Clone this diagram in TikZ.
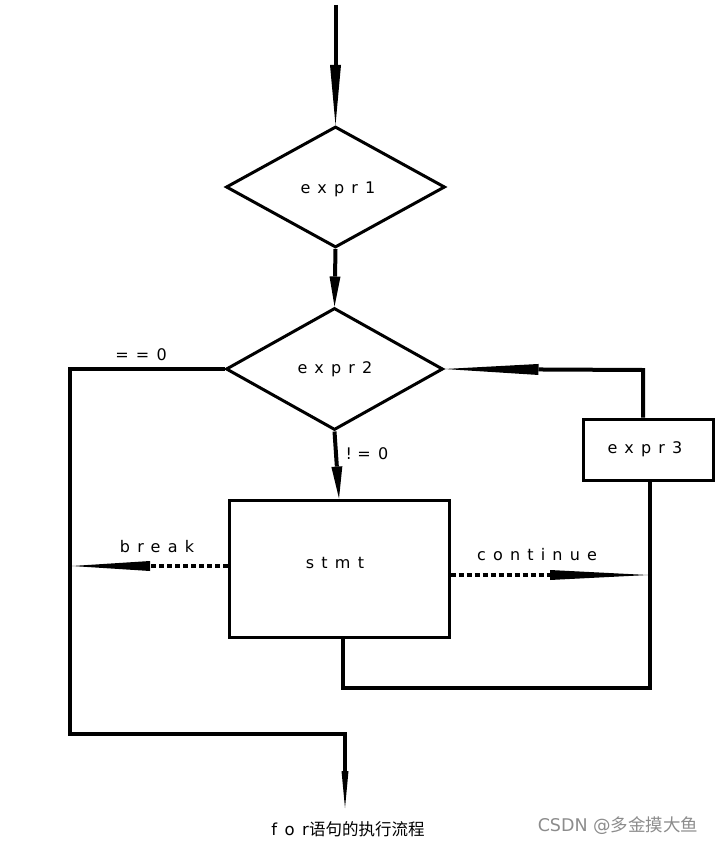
\documentclass[tikz,border=0pt]{standalone}
\usepackage{fontspec}
\setmainfont{DejaVu Sans}
\newfontfamily\spaced[LetterSpace=45]{DejaVu Sans}
\newfontfamily\cjk{Noto Sans CJK SC}
\usetikzlibrary{shapes.geometric,arrows.meta}
\begin{document}
\begin{tikzpicture}[x=1pt,y=-1pt,
  shapeline/.style={draw=black,line width=3pt},
  dia/.style={shapeline,diamond,inner sep=0pt},
  box/.style={shapeline,rectangle,inner sep=0pt},
  lbl/.style={font=\spaced\fontsize{16}{19}\selectfont,inner sep=0pt},
  conn/.style={line width=4pt,line join=miter},
  thinconn/.style={line width=3.4pt,line join=miter},
  longtip/.style={-{Triangle[length=#1,width=11pt,line width=0pt]}},
  dots/.style={dash pattern=on 5pt off 3pt}
]
\useasboundingbox (0,0) rectangle (719,843);

% shapes
\node[dia,minimum width=219pt,minimum height=121pt] (e1) at (335.5,187) {};
\node[dia,minimum width=217pt,minimum height=122pt] (e2) at (334.5,369) {};
\node[box,minimum width=220pt,minimum height=137pt] (stmt) at (339,568.5) {};
\node[box,minimum width=130pt,minimum height=61pt] (e3) at (648,449.5) {};

% texts
\node[lbl] (t1) at (338,189) {expr1};
\node[lbl] (t2) at (335,369) {expr2};
\node[lbl] (t3) at (335,563) {stmt};
\node[lbl] (t4) at (645,449) {expr3};
\node[lbl] (lz) at (141,355) {==0};
\node[lbl] (lnz) at (367,454) {!\,\,=0};
\node[lbl] (lbk) at (157,547) {break};
\node[lbl] (lct) at (537,555) {continue};
\node[inner sep=0pt,font=\fontsize{16.5}{19}\selectfont] (cap) at (348,829) {{\spaced for}{\cjk 语句的执行流程}};
\node[inner sep=0pt,text=black!45,font=\fontsize{17.5}{20}\selectfont] (wm) at (618,826) {CSDN @{\cjk 多金摸大鱼}};

% coordinates
\coordinate (top) at (335.5,5);
\coordinate (L1) at (70,369);
\coordinate (L2) at (70,734);
\coordinate (B1) at (345,734);
\coordinate (fin) at (345,808);
\coordinate (R1) at (643,370);
\coordinate (D1) at (650,688);
\coordinate (D2) at (343,688);
\coordinate (bk) at (72,566);
\coordinate (ct) at (648,575);

% connectors
\draw[conn,longtip=60pt] (top) -- (e1.north);
\draw[conn,longtip=30pt] (e1.south) -- (e2.north);
\draw[conn,longtip=32pt] (e2.south) -- (stmt.north);
\draw[thinconn,-{Triangle[length=37pt,width=7pt,line width=0pt]}] (e2.west) -- (L1) -- (L2) -- (B1) -- (fin);
\draw[conn,longtip=94pt] (e3.north -| R1) -- (R1) -- (e2.east);
\draw[thinconn] (e3.south -| D1) -- (D1) -- (D2) -- (stmt.south -| D2);
\draw[conn,dots,-{Triangle[length=78pt,width=10pt,line width=0pt]}] (bk -| stmt.west) -- (bk);
\draw[conn,dots,-{Triangle[length=98pt,width=10pt,line width=0pt]}] (ct -| stmt.east) -- (ct);
\end{tikzpicture}
\end{document}
